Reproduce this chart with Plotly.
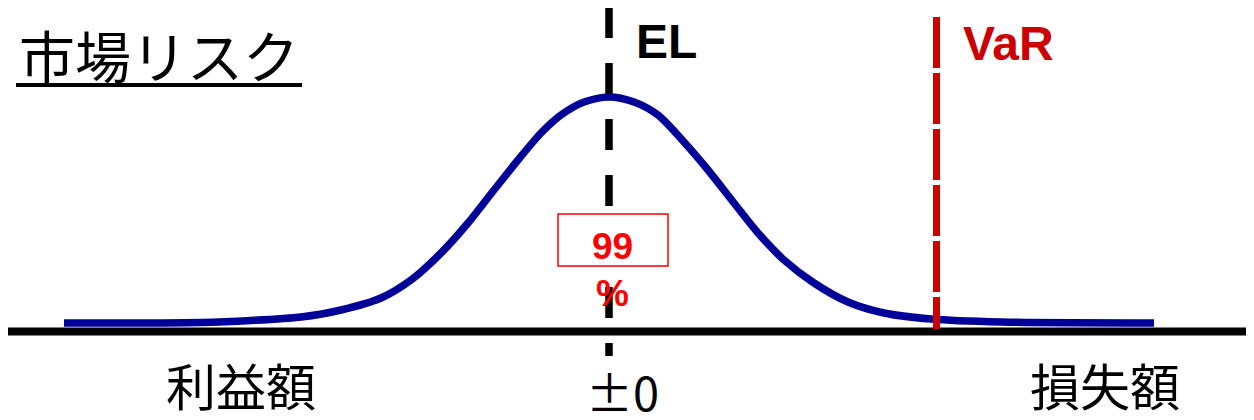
import plotly.graph_objects as go

# ---- data (x: position relative to EL, y: height above the baseline) ----
curve_x = [-545, -408, -358, -308, -268, -228, -198, -168, -141, -115, -91, -68, -48, -25, 0,
           25, 49, 75, 99, 125, 149, 175, 205, 239, 275, 322, 392, 545]
curve_y = [8.5, 9, 11, 14.5, 21.5, 33.5, 51.5, 78.5, 108.5, 141.5, 171.5, 198.5, 216.5, 229.5, 234.5,
           229.5, 216.5, 189.5, 161.5, 128.5, 98.5, 71.5, 48.5, 29.5, 18.5, 12.5, 9.5, 8.5]
el_x = 0
var_x = 327.5
axis_x = [-601, 645]
title_text = "市場リスク"
el_label = "EL"
var_label = "VaR"
conf_value = "99"
conf_unit = "%"
left_label = "利益額"
center_label = "±0"
right_label = "損失額"

JP = "Noto Sans CJK JP"
LAT = "Liberation Sans, Arial"

fig = go.Figure()
fig.add_trace(go.Scatter(
    x=curve_x, y=curve_y, mode="lines",
    line=dict(color="#000099", width=7.5, shape="spline", smoothing=0.8),
    hoverinfo="skip", showlegend=False,
))

shapes = [
    # baseline axis
    dict(type="line", xref="x", yref="y", x0=axis_x[0], x1=axis_x[1], y0=0, y1=0,
         line=dict(color="black", width=8), layer="above"),
    # EL dashed line
    dict(type="line", xref="x", yref="y", x0=el_x, x1=el_x, y0=324.5, y1=-24.5,
         line=dict(color="black", width=7.5, dash="31px,25px"), layer="above"),
    # VaR dashed line
    dict(type="line", xref="x", yref="y", x0=var_x, x1=var_x, y0=314.5, y1=2.5,
         line=dict(color="#CC0000", width=7, dash="51px,5px"), layer="above"),
    # 99% box
    dict(type="rect", xref="x", yref="y", x0=-51, x1=59, y0=65.5, y1=117.5,
         fillcolor="white", line=dict(color="#FF0000", width=1.5), layer="above"),
    # title underline
    dict(type="line", xref="x", yref="y", x0=-593, x1=-307, y0=246.5, y1=246.5,
         line=dict(color="black", width=4), layer="above"),
]

def ann(text, x, y, size, color="black", family=JP, bold=False, xanchor="center"):
    return dict(text=f"<b>{text}</b>" if bold else text, x=x, y=y, xref="x", yref="y",
                showarrow=False, xanchor=xanchor, yanchor="middle",
                font=dict(family=family, size=size, color=color))

annotations = [
    ann(title_text, -450.5, 278, 56),
    ann(el_label, 25, 290, 48, family=LAT, bold=True, xanchor="left"),
    ann(var_label, 352, 288.5, 48, color="#CC0000", family=LAT, bold=True, xanchor="left"),
    ann(conf_value, 3, 85, 37, color="#FF0000", family=LAT, bold=True),
    ann(conf_unit, 3, 38.5, 37, color="#FF0000", family=LAT, bold=True),
    ann(left_label, -368.5, -52, 50),
    ann(center_label, 13.5, -59, 47),
    ann(right_label, 495.5, -52, 50),
]

# page body has an 8px margin, so the figure is sized to fit the window exactly
fig.update_layout(
    width=1246, height=412,
    margin=dict(l=0, r=0, t=0, b=0),
    paper_bgcolor="white", plot_bgcolor="white",
    xaxis=dict(range=[-601, 645], visible=False, fixedrange=True),
    yaxis=dict(range=[-88.5, 323.5], visible=False, fixedrange=True),
    shapes=shapes, annotations=annotations, showlegend=False,
)

fig.write_html("out.html", config={"displayModeBar": False})
